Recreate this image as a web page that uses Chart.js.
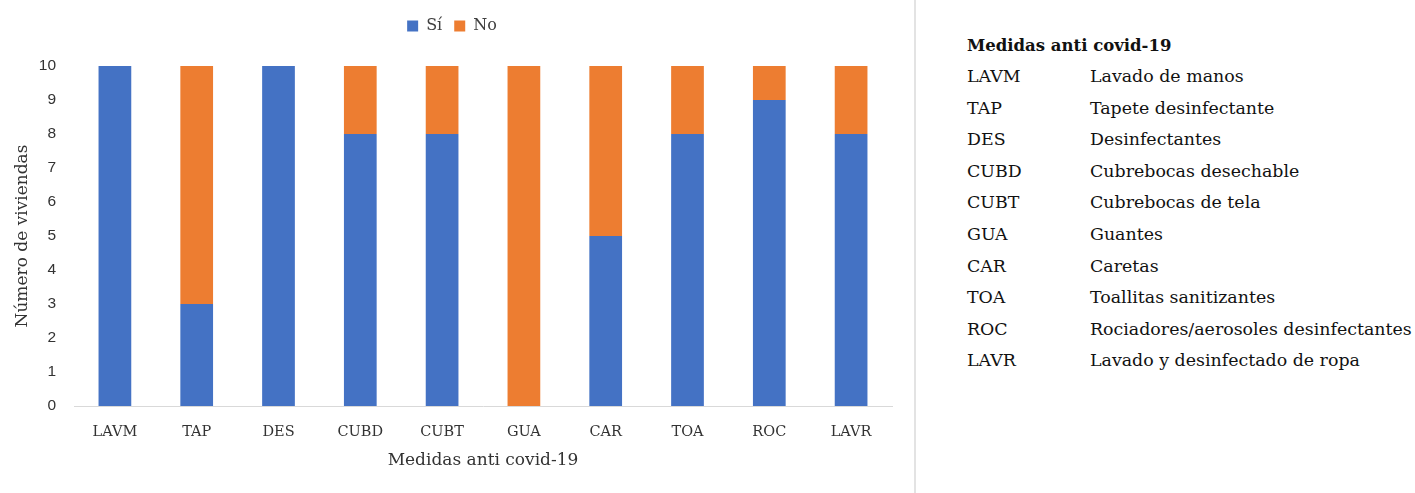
<!DOCTYPE html>
<html lang="es">
<head>
<meta charset="utf-8">
<script src="https://cdn.jsdelivr.net/npm/chart.js@4/dist/chart.umd.min.js"></script>
<style>
  html, body { margin: 0; padding: 0; background: #ffffff; }
  body { width: 1415px; height: 493px; position: relative; overflow: hidden; }
  #chartBox { position: absolute; left: 0; top: 0; width: 905px; height: 493px; }
  #divider { position: absolute; left: 914px; top: 0; width: 2px; height: 493px; background: #e3e3e3; }
  #key { position: absolute; left: 967px; top: 33px; font-family: "DejaVu Serif", serif; font-size: 17.4px; color: #111111; white-space: nowrap; }
  #key h3 { margin: 0 0 6px 0; font-size: 16.5px; font-weight: bold; line-height: 25px; }
  #key .row { display: flex; height: 31.6px; line-height: 25px; }
  #key .code { width: 123px; }
</style>
</head>
<body>
<div id="chartBox"><canvas id="c"></canvas></div>
<div id="divider"></div>
<div id="key"></div>
<script>
// Abbreviations on the x axis and their full names
const categories = ["LAVM", "TAP", "DES", "CUBD", "CUBT", "GUA", "CAR", "TOA", "ROC", "LAVR"];
const descriptions = [
  "Lavado de manos",
  "Tapete desinfectante",
  "Desinfectantes",
  "Cubrebocas desechable",
  "Cubrebocas de tela",
  "Guantes",
  "Caretas",
  "Toallitas sanitizantes",
  "Rociadores/aerosoles desinfectantes",
  "Lavado y desinfectado de ropa"
];
// Number of households that use / do not use each measure
const siValues = [10, 3, 10, 8, 8, 0, 5, 8, 9, 8];
const noValues = [0, 7, 0, 2, 2, 10, 5, 2, 1, 2];
const yTicks = [0, 1, 2, 3, 4, 5, 6, 7, 8, 9, 10];

const keyTitle = "Medidas anti covid-19";

// Side table with the abbreviations
const key = document.getElementById("key");
const h = document.createElement("h3");
h.textContent = keyTitle;
key.appendChild(h);
categories.forEach((code, i) => {
  const row = document.createElement("div");
  row.className = "row";
  const a = document.createElement("div");
  a.className = "code";
  a.textContent = code;
  const b = document.createElement("div");
  b.textContent = descriptions[i];
  row.appendChild(a);
  row.appendChild(b);
  key.appendChild(row);
});

const serif = "'DejaVu Serif', serif";

// Leaves extra room between the legend and the plot area
const legendGap = {
  id: "legendGap",
  afterInit(chart) {
    const legend = chart.legend;
    if (!legend) return;
    const fit = legend.fit;
    legend.fit = function () {
      fit.call(this);
      this.height += 22;
    };
  }
};

new Chart(document.getElementById("c"), {
  type: "bar",
  data: {
    labels: categories,
    datasets: [
      { label: "Sí", data: siValues, backgroundColor: "#4472C4", barPercentage: 0.8, categoryPercentage: 0.5 },
      { label: "No", data: noValues, backgroundColor: "#ED7D31", barPercentage: 0.8, categoryPercentage: 0.5 }
    ]
  },
  plugins: [legendGap],
  options: {
    responsive: true,
    maintainAspectRatio: false,
    animation: false,
    layout: { padding: { top: 6, right: 13, left: 12, bottom: 22 } },
    plugins: {
      tooltip: { enabled: false },
      legend: {
        position: "top",
        labels: {
          boxWidth: 11,
          boxHeight: 11,
          padding: 12,
          color: "#404040",
          font: { family: serif, size: 16 }
        }
      }
    },
    scales: {
      x: {
        stacked: true,
        grid: { display: false, drawTicks: false },
        border: { display: true, color: "#d9d9d9", width: 1 },
        ticks: { color: "#333333", padding: 18, font: { family: serif, size: 14.5 } },
        title: {
          display: true,
          text: "Medidas anti covid-19",
          color: "#333333",
          font: { family: serif, size: 17 },
          padding: { top: 4, bottom: 0 }
        },
        afterFit: (s) => { s.height = 65; }
      },
      y: {
        stacked: true,
        min: 0,
        max: 10,
        afterBuildTicks: (s) => { s.ticks = yTicks.map(v => ({ value: v })); },
        grid: { display: false, drawTicks: false },
        border: { display: false },
        ticks: { color: "#333333", padding: 18, font: { family: "'Liberation Sans', sans-serif", size: 15.5 } },
        title: {
          display: true,
          text: "Número de viviendas",
          color: "#333333",
          font: { family: serif, size: 17 },
          padding: { top: 0, bottom: 4 }
        },
        afterFit: (s) => { s.width = 62; }
      }
    }
  }
});
</script>
</body>
</html>
